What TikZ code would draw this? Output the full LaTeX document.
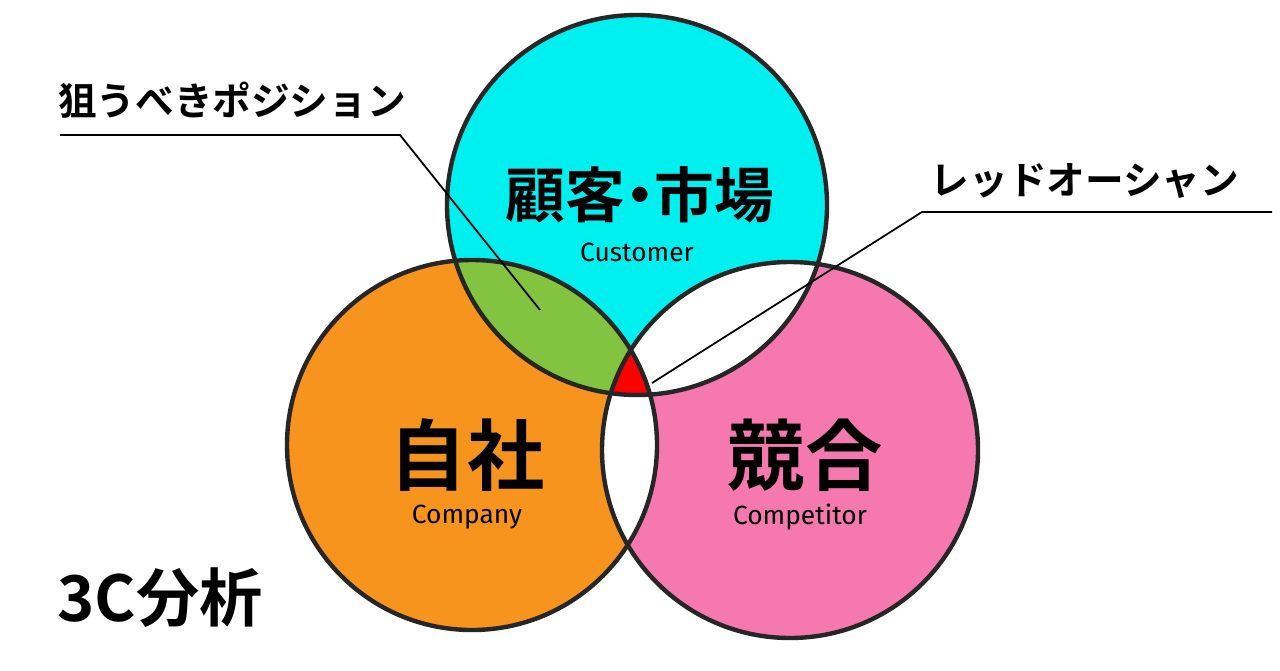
\documentclass[tikz,border=0pt]{standalone}
\usepackage{fontspec}
\newfontfamily\jp{Noto Sans CJK JP}[BoldFont={Noto Sans CJK JP Bold}]
\newfontfamily\en{Fira Sans}
\definecolor{cy}{RGB}{0,240,240}
\definecolor{gr}{RGB}{130,196,64}
\definecolor{pk}{RGB}{245,120,175}
\definecolor{og}{RGB}{247,148,30}
\begin{document}
\begin{tikzpicture}[x=0.02cm,y=-0.02cm,
  ring/.style={draw=black!85,line width=2.5pt},
  lead/.style={draw=black,line width=1pt},
  big/.style={font=\jp\bfseries\fontsize{34}{38}\selectfont},
  sub/.style={font=\en\fontsize{15}{17}\selectfont},
  lab/.style={font=\jp\bfseries\fontsize{22}{26}\selectfont}]
\useasboundingbox (0,0) rectangle (1280,670);
\fill[white] (0,0) rectangle (1280,670);
\def\T{(637,205) circle (190)}
\def\L{(472,445) circle (185)}
\def\R{(790,450) circle (188)}
\fill[cy] \T;
\fill[og] \L;
\fill[pk] \R;
\begin{scope}\clip \T; \fill[white] \R; \fill[gr] \L; \end{scope}
\begin{scope}\clip \L; \fill[white] \R; \end{scope}
\begin{scope}\clip \T; \clip \L; \fill[red] \R; \end{scope}
\draw[ring] \T; \draw[ring] \L; \draw[ring] \R;
\node[big,inner sep=0pt] (cust) at (640,195) {顧客\kern-0.25em・\kern-0.25em市場};
\node[sub] (custen) at (637,252) {Customer};
\node[big,font=\jp\bfseries\fontsize{44}{48}\selectfont] (self) at (467,455) {自社};
\node[sub] (selfen) at (467,517) {Company};
\node[big,font=\jp\bfseries\fontsize{44}{48}\selectfont] (comp) at (805,455) {競合};
\node[sub] (compen) at (800,517) {Competitor};
\node[big,font=\jp\bfseries\fontsize{36}{40}\selectfont] (title) at (160,598) {3C分析};
\node[lab] (aim) at (232,100) {狙うべきポジション};
\node[lab] (red) at (1085,181) {レッドオーシャン};
\coordinate (a1) at (60,135); \coordinate (a2) at (400,135); \coordinate (a3) at (540,310);
\coordinate (b1) at (1272,212); \coordinate (b2) at (922,212); \coordinate (b3) at (652,383);
\draw[lead] (a1) -- (a2) -- (a3);
\draw[lead] (b1) -- (b2) -- (b3);
\end{tikzpicture}
\end{document}
